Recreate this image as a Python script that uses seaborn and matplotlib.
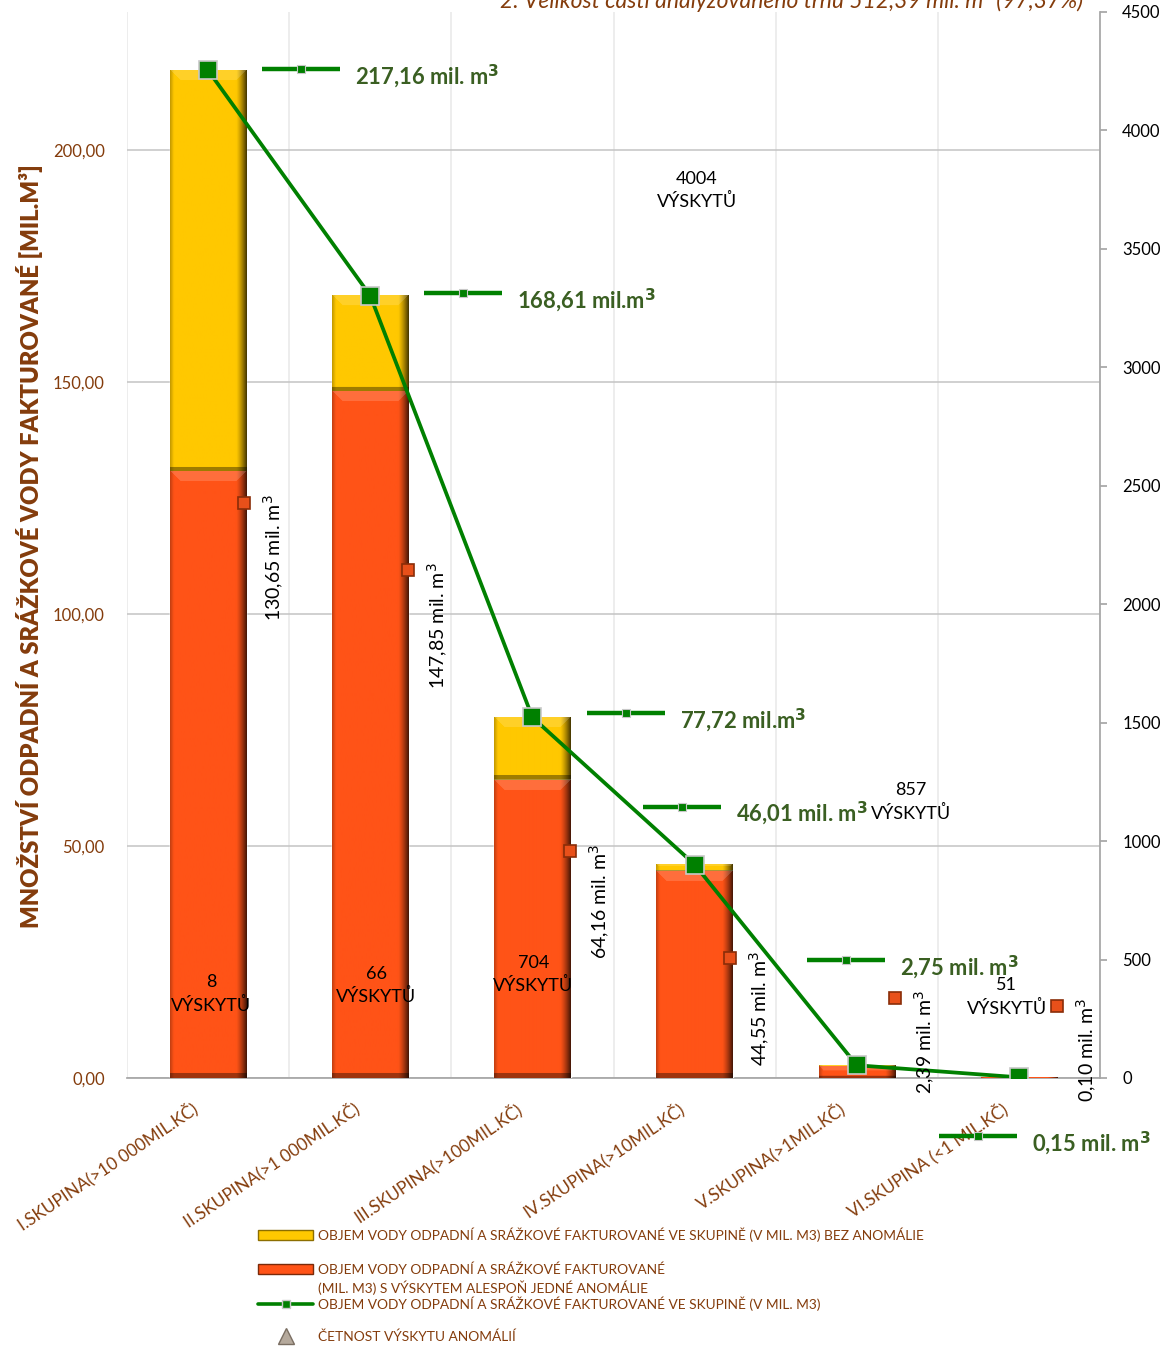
import numpy as np
import matplotlib
matplotlib.use("Agg")
import matplotlib.pyplot as plt
import matplotlib.transforms as mtransforms
from matplotlib.lines import Line2D
from matplotlib.patches import Patch
import seaborn as sns

# ---------------------------------------------------------------- data
categories = [
    "I.SKUPINA(>10 000MIL.KČ)",
    "II.SKUPINA(>1 000MIL.KČ)",
    "III.SKUPINA(>100MIL.KČ)",
    "IV.SKUPINA(>10MIL.KČ)",
    "V.SKUPINA(>1MIL.KČ)",
    "VI.SKUPINA (<1 MIL.KČ)",
]
total_volume = [217.16, 168.61, 77.72, 46.01, 2.75, 0.15]      # mil. m3 per group
anomaly_volume = [130.65, 147.85, 64.16, 44.55, 2.39, 0.10]    # mil. m3 with >=1 anomaly
anomaly_count = [8, 66, 704, 4004, 857, 51]                    # number of anomalies
left_ticks = [0, 50, 100, 150, 200]
right_ticks = [0, 500, 1000, 1500, 2000, 2500, 3000, 3500, 4000, 4500]

total_suffix = [" mil. m", " mil.m", " mil.m", " mil. m", " mil. m", " mil. m"]

# ---------------------------------------------------------------- label layout (pixel offsets)
total_label_offsets = [(147, -6), (147, -4), (148, -3), (41, 51), (43, 98), (13, -66)]
anomaly_label_offsets = [(66, -23), (68, -170), (68, -63), (65, -79), (68, 77), (68, 80)]
count_label_offsets = [(3, 82), (6, 77), (1, -63), (2, -61), (54, 73), (-12, 69)]

# ---------------------------------------------------------------- style
YELLOW = "#FFC800"
RED = "#FF5317"
GREEN = "#008000"
LABEL_GREEN = "#3A5F22"
BROWN = "#843C0C"
W_PX, H_PX = 1164, 1346

sns.set_theme(style="white")
plt.rcParams["font.family"] = ["Lato", "DejaVu Sans"]
plt.rcParams["mathtext.fontset"] = "dejavusans"

fig = plt.figure(figsize=(W_PX / 100, H_PX / 100), dpi=100)
ax = fig.add_axes([127 / W_PX, 1 - 1078 / H_PX, (1100 - 127) / W_PX, (1078 - 12) / H_PX])
YMAX = 1066 / 4.64

# stacked bars: full-height yellow, red part drawn over it
sns.barplot(x=categories, y=total_volume, color=YELLOW, saturation=1, width=0.47,
            errorbar=None, ax=ax, zorder=2)
sns.barplot(x=categories, y=anomaly_volume, color=RED, saturation=1, width=0.47,
            errorbar=None, ax=ax, zorder=3)
ax.set_xlim(-0.5, 5.5)
ax.set_ylim(0, YMAX)


def bevel_fill(x0, x1, y0, y1, rgb, zorder):
    """Paint a bevelled, shaded face over a bar segment."""
    (px0, py0), (px1, py1) = ax.transData.transform([(x0, y0), (x1, y1)])
    w = max(int(round(px1 - px0)), 2)
    h = max(int(round(py1 - py0)), 1)
    base = np.array(matplotlib.colors.to_rgb(rgb))
    cols = np.arange(w)[None, :] + 0.5
    rows = np.arange(h)[:, None] + 0.5
    shade = np.ones((h, w))
    edge = min(11.0, w * 0.14)
    r = np.clip((cols - (w - edge)) / edge, 0, 1)
    shade = shade * (1 - 0.75 * r ** 1.3)
    lft = np.clip(1 - cols / 4.0, 0, 1)
    shade = shade * (1 - 0.25 * lft)
    img = base[None, None, :] * shade[..., None]
    tb = min(10.0, h * 0.35)
    top = (rows < tb) & (cols > rows) & (cols < w - rows)
    img = np.where(top[..., None], img + (1 - img) * 0.16, img)
    bb = min(5.0, h * 0.2)
    bot = np.broadcast_to(rows > h - bb, (h, w))
    img = np.where(bot[..., None], img * 0.62, img)
    ax.imshow(np.clip(img, 0, 1), extent=(x0, x1, y0, y1), origin="upper",
              aspect="auto", interpolation="bilinear", zorder=zorder)


for bar, low in zip(ax.containers[0], anomaly_volume):
    x0 = bar.get_x()
    bevel_fill(x0, x0 + bar.get_width(), low, bar.get_height(), YELLOW, 2.5)
for bar in ax.containers[1]:
    x0 = bar.get_x()
    bevel_fill(x0, x0 + bar.get_width(), 0, bar.get_height(), RED, 3.5)

# total volume line
sns.pointplot(x=categories, y=total_volume, color=GREEN, markers="s", errorbar=None,
              ax=ax, linewidth=2.7, markersize=13, markeredgewidth=1.2,
              markeredgecolor="#C8C8C8", zorder=6)
ax.set_xlim(-0.5, 5.5)
ax.set_ylim(0, YMAX)

# grid and axes
ax.set_yticks(left_ticks)
ax.set_yticklabels([f"{v:.2f}".replace(".", ",") for v in left_ticks], color=BROWN, fontsize=12)
ax.yaxis.grid(True, color="#C4C4C4", lw=1.1, zorder=0)
ax.set_xticks(np.arange(-0.5, 6, 1), minor=True)
ax.xaxis.grid(True, which="minor", color="#E8E8E8", lw=1.1, zorder=0)
ax.xaxis.grid(False, which="major")
ax.set_axisbelow(True)
for s in ("left", "top", "right"):
    ax.spines[s].set_visible(False)
ax.spines["bottom"].set_color("#A6A6A6")
ax.tick_params(axis="y", length=0, pad=16)
ax.tick_params(axis="x", which="both", length=0)
ax.set_xlabel("")
ax.set_ylabel("")
ax.set_xticklabels(categories, rotation=34, ha="right", rotation_mode="anchor",
                   color=BROWN, fontsize=12.4)
shift = mtransforms.ScaledTranslation(-18 / 100, -16 / 100, fig.dpi_scale_trans)
for lab in ax.get_xticklabels():
    lab.set_transform(lab.get_transform() + shift)

# right axis with anomaly counts
ax2 = ax.twinx()
ax2.set_ylim(0, 4500)
ax2.set_yticks(right_ticks)
ax2.set_yticklabels([str(v) for v in right_ticks], fontsize=12, color="black")
for s in ("left", "top", "bottom"):
    ax2.spines[s].set_visible(False)
ax2.spines["right"].set_color("#A6A6A6")
ax2.tick_params(axis="y", direction="out", length=5, color="#A6A6A6", pad=11)
ax2.grid(False)

# total volume labels with their line key
for i, (v, suf, (dx, dy)) in enumerate(zip(total_volume, total_suffix, total_label_offsets)):
    txt = f"{v:.2f}".replace(".", ",") + suf + r"$^{\mathbf{3}}$"
    ax.annotate(txt, xy=(i, v), xytext=(dx, dy), textcoords="offset pixels",
                ha="left", va="center", fontsize=15.8, fontweight="bold",
                color=LABEL_GREEN, zorder=8)
    key_tr = mtransforms.offset_copy(ax.transData, fig=fig, x=dx - 54, y=dy + 7, units="dots")
    ax.plot([i], [v], marker="_", ms=56, mew=3.2, color=GREEN, transform=key_tr,
            zorder=7, clip_on=False)
    ax.plot([i], [v], marker="s", ms=6, mew=0.8, color=GREEN, mec="#C8C8C8",
            transform=key_tr, zorder=7, clip_on=False)

# anomaly volume labels (rotated) with their bar key
for i, (v, (dx, dy)) in enumerate(zip(anomaly_volume, anomaly_label_offsets)):
    txt = f"{v:.2f}".replace(".", ",") + " mil. m$^3$"
    ax.annotate(txt, xy=(i, v), xytext=(dx, dy), textcoords="offset pixels",
                ha="center", va="top", rotation=90, fontsize=14, color="black",
                zorder=8, annotation_clip=False)
    key_tr = mtransforms.offset_copy(ax.transData, fig=fig, x=dx - 30, y=dy - 8, units="dots")
    ax.plot([i], [v], marker="s", ms=8, mew=1.2, color="#E8501A", mec="#8A2D08",
            transform=key_tr, zorder=7, clip_on=False)

# anomaly count labels
for i, (c, (dx, dy)) in enumerate(zip(anomaly_count, count_label_offsets)):
    ax2.annotate(f"{c}\nVÝSKYTŮ", xy=(i, c), xytext=(dx, dy), textcoords="offset pixels",
                 ha="center", va="center", fontsize=13, color="black",
                 linespacing=1.45, zorder=8, annotation_clip=False)

# axis title and clipped heading
fig.text(30 / W_PX, 1 - 546 / H_PX, "MNOŽSTVÍ ODPADNÍ A SRÁŽKOVÉ VODY FAKTUROVANÉ [MIL.M³]",
         rotation=90, ha="center", va="center", fontsize=17.2, fontweight="heavy",
         color=BROWN)
fig.text(1083 / W_PX, 1 - 8 / H_PX, "2. Velikost části analyzovaného trhu 512,39 mil. m³ (97,37%)",
         ha="right", va="baseline", fontsize=16.5, style="italic", color=BROWN)

# legend rows
legend_rows = [
    (Patch(facecolor=YELLOW, edgecolor="#8C6E00"),
     "OBJEM VODY ODPADNÍ A SRÁŽKOVÉ FAKTUROVANÉ VE SKUPINĚ (V MIL. M3) BEZ ANOMÁLIE", 1235),
    (Patch(facecolor=RED, edgecolor="#7A2A0A"),
     "OBJEM VODY ODPADNÍ A SRÁŽKOVÉ FAKTUROVANÉ", 1270),
    (Line2D([], [], color=GREEN, lw=2.6, marker="s", ms=6, mec="#C8C8C8"),
     "OBJEM VODY ODPADNÍ A SRÁŽKOVÉ FAKTUROVANÉ VE SKUPINĚ (V MIL. M3)", 1304),
    (Line2D([], [], ls="none", marker="^", ms=12, color="#B5A99C", mec="#7A6E62"),
     "ČETNOST VÝSKYTU ANOMÁLIÍ", 1337),
]
for handle, label, ypx in legend_rows:
    fig.legend([handle], [label], loc="center left", bbox_to_anchor=(258 / W_PX, 1 - ypx / H_PX),
               frameon=False, fontsize=9.9, labelcolor=BROWN, borderpad=0, borderaxespad=0,
               handlelength=4.0, handletextpad=0.35, handleheight=0.75)
fig.text(318 / W_PX, 1 - 1288 / H_PX, "(MIL. M3) S VÝSKYTEM ALESPOŇ JEDNÉ ANOMÁLIE",
         ha="left", va="center", fontsize=9.9, color=BROWN)

fig.savefig("out.png", dpi=100)
